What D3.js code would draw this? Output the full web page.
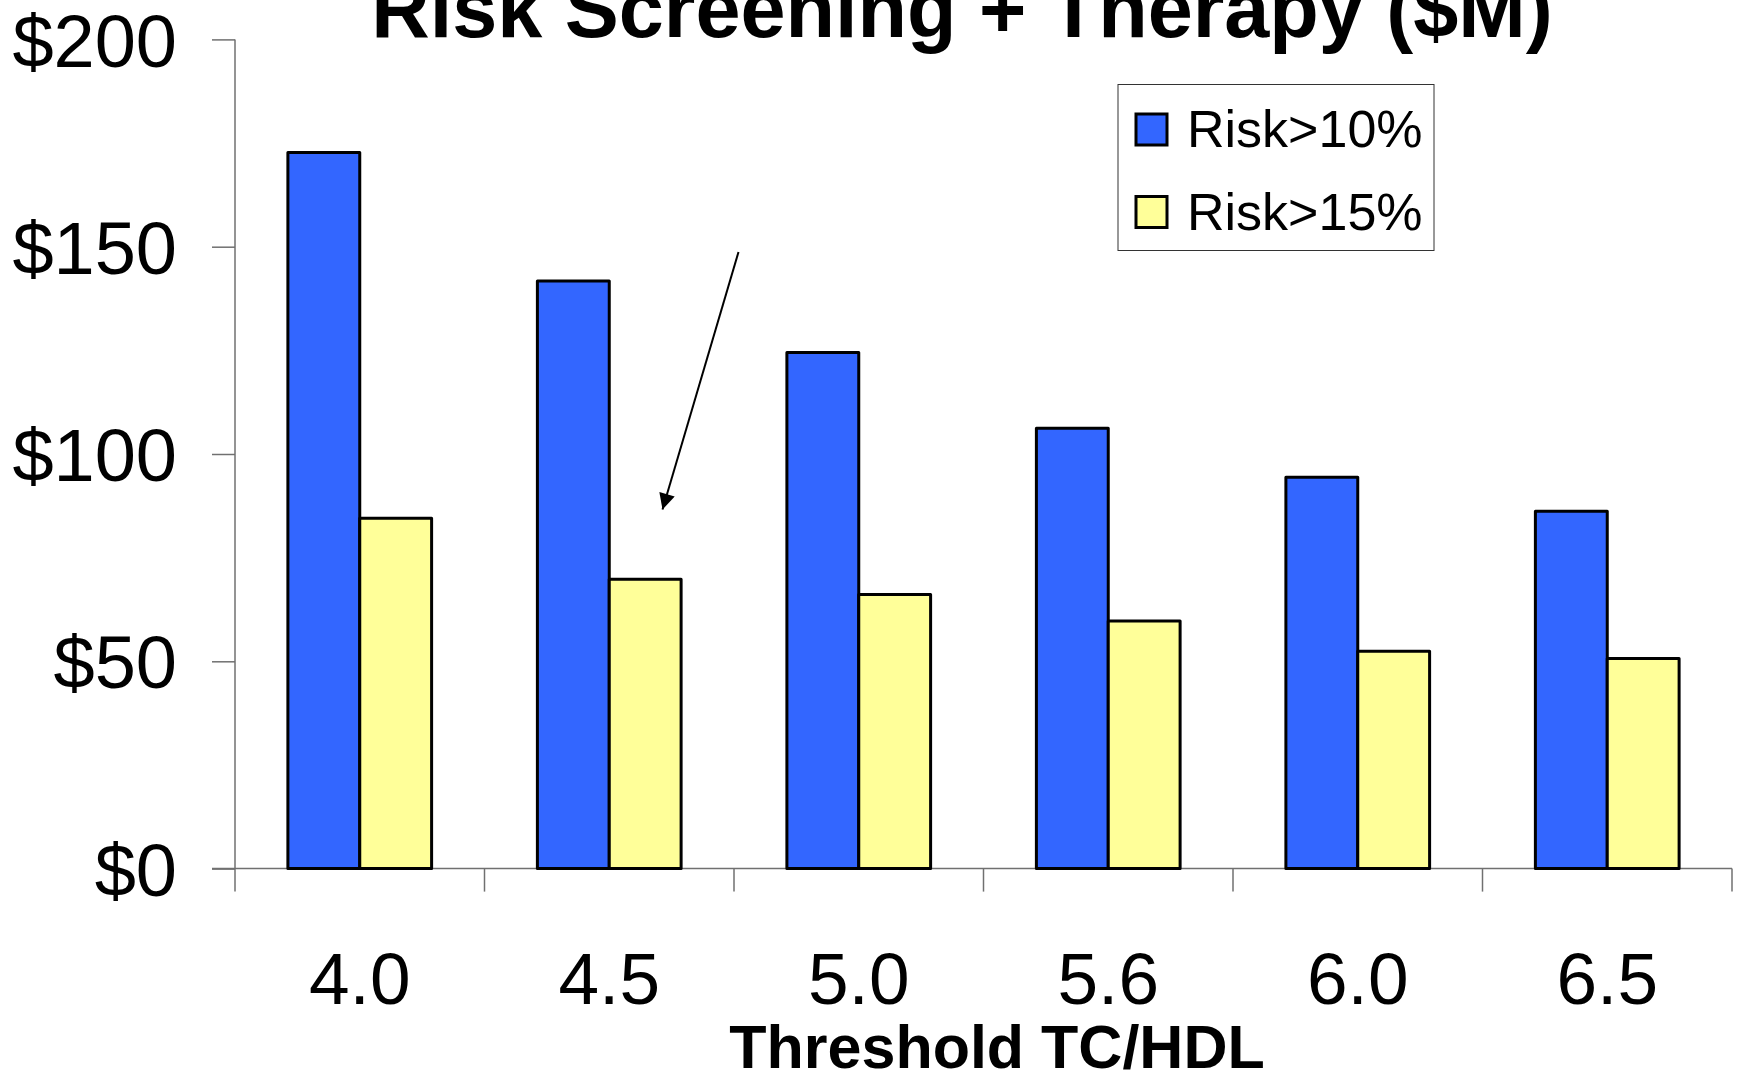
<!DOCTYPE html>
<html>
<head>
<meta charset="utf-8">
<script src="https://cdn.jsdelivr.net/npm/d3@7"></script>
<style>
  html, body { margin: 0; padding: 0; background: #fff; }
  svg { display: block; }
  text { font-family: "Liberation Sans", Arial, sans-serif; fill: #000; }
</style>
</head>
<body>
<script>
const categories = ["4.0", "4.5", "5.0", "5.6", "6.0", "6.5"];
const seriesNames = ["Risk>10%", "Risk>15%"];
const risk10 = [172.7, 141.7, 124.5, 106.2, 94.4, 86.2];
const risk15 = [84.5, 69.8, 66.1, 59.7, 52.4, 50.7];
const yTicks = [0, 50, 100, 150, 200];
const colors = ["#3366FF", "#FFFF99"];
const titleText = "Risk Screening + Therapy ($M)";
const xTitleText = "Threshold TC/HDL";

const W = 1744, H = 1074;
const svg = d3.select("body").append("svg").attr("width", W).attr("height", H);

const x0 = d3.scaleBand().domain(categories).range([235, 1732]).padding(0);
const step = x0.step();
const x1 = d3.scaleBand().domain(seriesNames).range([step * 0.212, step * 0.788]).padding(0);
const y = d3.scaleLinear().domain([0, 200]).range([868.6, 39.4]);

const axisColor = "#707070";

// Title
svg.append("text").attr("x", 962).attr("y", 37).attr("text-anchor", "middle")
  .attr("font-size", 81).attr("font-weight", "bold").text(titleText);

// Y axis
const yAxis = svg.append("g").attr("transform", "translate(235,0)")
  .call(d3.axisLeft(y).tickValues(yTicks).tickSize(23).tickPadding(35).tickFormat(d => "$" + d));
yAxis.select(".domain").attr("stroke", axisColor).attr("stroke-width", 1.5)
  .attr("d", `M0,${y(200)}V${y(0)}`);
yAxis.selectAll(".tick line").attr("stroke", axisColor).attr("stroke-width", 1.5);
yAxis.selectAll(".tick text").attr("font-size", 74)
  .attr("font-family", "Liberation Sans, Arial, sans-serif").attr("fill", "#000")
  .attr("dy", "0.36em");

// X axis baseline and boundary ticks
const xg = svg.append("g");
xg.append("line").attr("x1", 212).attr("x2", x0.range()[1])
  .attr("y1", y(0)).attr("y2", y(0)).attr("stroke", axisColor).attr("stroke-width", 1.5);
const boundaries = categories.map(c => x0(c)).concat([x0.range()[1]]);
xg.selectAll("line.bt").data(boundaries).enter().append("line").attr("class", "bt")
  .attr("x1", d => d).attr("x2", d => d).attr("y1", y(0)).attr("y2", y(0) + 23)
  .attr("stroke", axisColor).attr("stroke-width", 1.5);
xg.selectAll("text.xl").data(categories).enter().append("text").attr("class", "xl")
  .attr("x", d => x0(d) + step / 2).attr("y", 1004).attr("text-anchor", "middle")
  .attr("font-size", 73).text(d => d);

// X axis title
svg.append("text").attr("x", 997).attr("y", 1068).attr("text-anchor", "middle")
  .attr("font-size", 61).attr("font-weight", "bold").text(xTitleText);

// Bars
const data = categories.map((c, i) => ({ c, vals: [risk10[i], risk15[i]] }));
const groups = svg.append("g").selectAll("g").data(data).enter().append("g")
  .attr("transform", d => `translate(${x0(d.c)},0)`);
groups.selectAll("rect").data(d => d.vals.map((v, j) => ({ v, s: seriesNames[j], j })))
  .enter().append("rect")
  .attr("x", d => x1(d.s)).attr("width", x1.bandwidth())
  .attr("y", d => y(d.v)).attr("height", d => y(0) - y(d.v))
  .attr("fill", d => colors[d.j]).attr("stroke", "#000").attr("stroke-width", 3)
  .attr("stroke-linejoin", "round");

// Legend
const lg = svg.append("g");
lg.append("rect").attr("x", 1118).attr("y", 84.5).attr("width", 316).attr("height", 166)
  .attr("fill", "#fff").attr("stroke", "#333").attr("stroke-width", 1);
const items = lg.selectAll("g.it").data(seriesNames).enter().append("g").attr("class", "it")
  .attr("transform", (d, i) => `translate(0,${i * 82.5})`);
items.append("rect").attr("x", 1136).attr("y", 114).attr("width", 31).attr("height", 31)
  .attr("fill", (d, i) => colors[i]).attr("stroke", "#000").attr("stroke-width", 3);
items.append("text").attr("x", 1187).attr("y", 147).attr("font-size", 52).text(d => d);

// Arrow annotation
const defs = svg.append("defs");
defs.append("marker").attr("id", "ah").attr("viewBox", "0 0 10 10")
  .attr("refX", 10).attr("refY", 5)
  .attr("markerUnits", "userSpaceOnUse").attr("orient", "auto")
  .attr("markerWidth", 18).attr("markerHeight", 16)
  .append("path").attr("d", "M0,0L10,5L0,10Z").attr("fill", "#000");
svg.append("line").attr("x1", 738.5).attr("y1", 252).attr("x2", 662.5).attr("y2", 509.5)
  .attr("stroke", "#000").attr("stroke-width", 2).attr("marker-end", "url(#ah)");
</script>
</body>
</html>
